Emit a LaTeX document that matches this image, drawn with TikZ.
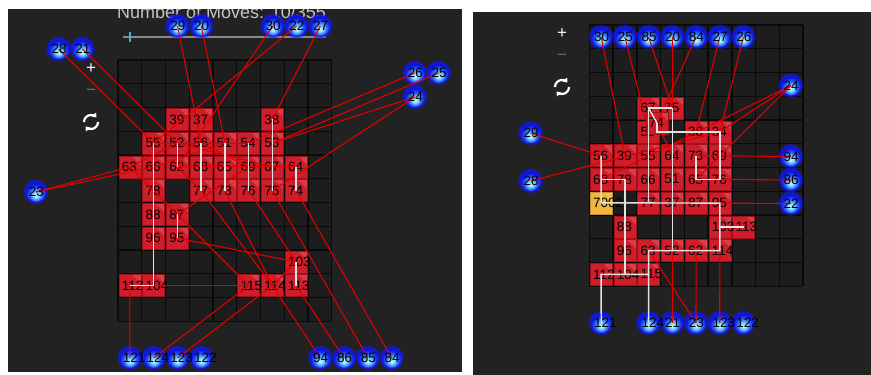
\documentclass[tikz,border=0pt]{standalone}
\usepackage{fontspec}
\setmainfont{Liberation Sans}
\usetikzlibrary{arrows.meta}

% blue pads: light cyan low in the middle, deep blue at the rim
\pgfdeclareradialshading{pinshade}{\pgfpoint{0bp}{-8bp}}{%
  rgb(0bp)=(0.80,0.97,1.00);
  rgb(7bp)=(0.50,0.85,1.00);
  rgb(16bp)=(0.15,0.35,0.97);
  rgb(24bp)=(0.05,0.08,0.85);
  rgb(50bp)=(0.05,0.08,0.85)}

\begin{document}
\begin{tikzpicture}[
    x=1pt, y=-1pt,
    every node/.style={font=\fontsize{13.5}{14}\selectfont},
]

% ---------------------------------------------------------------- colours
\definecolor{panel}{HTML}{222222}
\definecolor{cellbg}{HTML}{1D1D1D}
\definecolor{gridc}{HTML}{0A0A0A}
\definecolor{tilered}{HTML}{CF1D29}
\definecolor{tileedge}{HTML}{A3101B}
\definecolor{tilegold}{HTML}{F2B53E}
\definecolor{wirered}{HTML}{E00000}
\definecolor{routewhite}{HTML}{E2E2E2}
\definecolor{pinrim}{HTML}{1518E8}
\definecolor{textgrey}{HTML}{C4C4C4}
\definecolor{minusgrey}{HTML}{6E6E6E}
\definecolor{slidergrey}{HTML}{8A8A8A}
\definecolor{slidercyan}{HTML}{3BB6CC}

% ---------------------------------------------------------------- styles
\tikzset{
    tile/.style={
        rectangle, minimum size=22pt, inner sep=0pt,
        fill=tilered, draw=tileedge, line width=0.5pt,
        path picture={
            \fill[white, opacity=0.15] (path picture bounding box.north east)
                -- ++(-9pt,0pt) -- ++(9pt,-9pt) -- cycle;
        },
    },
    goldtile/.style={tile, fill=tilegold, draw=tilegold!80!black},
    tilenum/.style={anchor=west, inner sep=0pt, text=black},
    pinball/.style={
        circle, minimum size=21pt, inner sep=0pt,
        shading=pinshade, draw=pinrim, line width=1pt,
        preaction={draw=pinrim, line width=4pt, draw opacity=0.45},
    },
    pinnum/.style={anchor=west, inner sep=0pt, text=black},
    wire/.style={draw=wirered, line width=1.1pt},
    route/.style={draw=routewhite, line width=1.4pt},
    gridline/.style={draw=gridc, line width=1.4pt},
    control/.style={text=white, inner sep=0pt, font=\fontsize{17}{17}\selectfont},
    refresh/.style={white, line width=2.2pt, -{Triangle[length=4pt, width=6pt]}},
}

\def\leftTiles{39/2/2, 37/3/2, 38/6/2, 55/1/3, 52/2/3, 56/3/3, 51/4/3,
    54/5/3, 53/6/3, 63/0/4, 66/1/4, 62/2/4, 68/3/4, 65/4/4, 69/5/4,
    67/6/4, 64/7/4, 78/1/5, 77/3/5, 73/4/5, 76/5/5, 75/6/5, 74/7/5,
    88/1/6, 87/2/6, 96/1/7, 95/2/7, 103/7/8, 112/0/9, 104/1/9,
    115/5/9, 114/6/9, 113/7/9}
\def\rightTiles{67/2/3, 75/3/3, 59/2/4, 38/4/4, 34/5/4, 56/0/5, 39/1/5,
    55/2/5, 64/3/5, 73/4/5, 69/5/5, 68/0/6, 78/1/6, 66/2/6, 51/3/6,
    65/4/6, 76/5/6, 77/2/7, 37/3/7, 87/4/7, 95/5/7, 88/1/8, 103/5/8,
    113/6/8, 96/1/9, 63/2/9, 52/3/9, 62/4/9, 114/5/9, 112/0/10,
    104/1/10, 115/2/10}

\useasboundingbox (0,0) rectangle (871,375);

% ---------------------------------------------------------------- panels
\fill[white] (0,0) rectangle (871,375);
\fill[panel] (8,9) rectangle (462,372);
\fill[panel] (473,12) rectangle (871,375);

% ---------------------------------------------------------------- move counter (cut at the top)
\begin{scope}
    \clip (8,9) rectangle (462,372);
    \node[anchor=base west, inner sep=0pt, text=textgrey,
        font=\fontsize{18}{18}\selectfont] (moves) at (117,18)
        {Number of Moves: 10/355};
\end{scope}
\draw[slidergrey, line width=2pt] (123,37) -- (326,37);
\draw[slidercyan, line width=2pt] (130,32) -- (130,42);

% ---------------------------------------------------------------- zoom / rotate controls
\foreach \s/\cx/\cy in {L/91/69, R/562/34} {
    \node[control] (plus\s) at (\cx,\cy) {+};
    \node[control, text=minusgrey] (minus\s) at (\cx,\cy+23) {−};
    \draw[refresh] (\cx+7,\cy+53) arc[start angle=0, end angle=140, radius=7];
    \draw[refresh] (\cx-7,\cy+53) arc[start angle=180, end angle=320, radius=7];
}

% ---------------------------------------------------------------- boards
\foreach \gx/\gy in {118/60, 589.3/25} {
    \fill[cellbg] (\gx,\gy) rectangle (\gx+213.75,\gy+261.25);
    \foreach \i in {0,...,9}
        \draw[gridline] (\gx+\i*23.75,\gy) -- (\gx+\i*23.75,\gy+261.25);
    \foreach \j in {0,...,11}
        \draw[gridline] (\gx,\gy+\j*23.75) -- (\gx+213.75,\gy+\j*23.75);
}

% ---------------------------------------------------------------- tiles
\foreach \n/\c/\r in \leftTiles
    \node[tile] (l\n) at (118+\c*23.75+11.875, 60+\r*23.75+11.875) {};
\foreach \n/\c/\r in \rightTiles
    \node[tile] (r\n) at (589.3+\c*23.75+11.875, 25+\r*23.75+11.875) {};
\node[goldtile] (r70) at (601.2,202.8) {};

\foreach \n/\c/\r in \leftTiles
    \node[tilenum] (l\n-t) at ([xshift=3pt]l\n.west) {\n};
\foreach \n/\c/\r in \rightTiles
    \node[tilenum] (r\n-t) at ([xshift=3pt]r\n.west) {\n};
\node[tilenum] (r70-t) at ([xshift=3pt]r70.west) {7002};

% tile caught mid-move, lying over 59
\node[tile] (r74) at (657,123) {};
\node[tilenum] (r74-t) at ([xshift=3pt]r74.west) {74};

% ---------------------------------------------------------------- pads
\foreach \n/\px/\py in {28/58.6/49, 21/82.4/49, 29/177.5/26, 20/201.3/26,
    30/272.7/26, 22/296.5/26, 27/320.3/26, 26/414.9/73, 25/438.6/73,
    24/414.9/97, 23/36/192, 121/129.9/358, 124/153.7/358, 123/177.5/358,
    122/201.3/358, 94/320.3/358, 86/344.1/358, 85/367.9/358, 84/391.7/358} {
    \node[pinball] (lp\n) at (\px,\py) {};
}
\foreach \n/\px/\py in {30/601.2/37, 25/624.9/37, 85/648.6/37, 20/672.3/37,
    84/696/37, 27/719.7/37, 26/743.4/37, 24/790.8/85.5, 94/790.8/156.5,
    86/790.8/180, 22/790.8/203.5, 29/530.7/133.3, 28/530.7/181,
    121/601.2/323, 124/648.6/323, 21/672.3/323, 23/696/323,
    123/719.7/323, 122/743.4/323} {
    \node[pinball] (rp\n) at (\px,\py) {};
}

% ---------------------------------------------------------------- red wires
\foreach \a/\b in {lp28/l55, lp21/l52, lp29/l56, lp20/l51, lp30/l62,
    lp22/l55, lp27/l38, lp26/l54, lp25/l53, lp24/l53, lp24/l75,
    lp23/l63, lp23/l66, l63/l52, l66/l51, l55/l54, l62/l65, l52/l67,
    l56/l69, l68/l64, l62/l77, l87/l69, l63/l115, l95/l103, l77/l114,
    l73/l114, l76/l103, l114/l103, l104/l115, lp121/l112, lp124/l115,
    lp123/l114, lp94/l114, lp86/l113, lp85/l75, lp84/l74}
    \draw[wire] (\a.center) -- (\b.center);

\foreach \a/\b in {rp30/r39, rp25/r59, rp85/r75, rp20/r75, rp84/r74,
    rp27/r38, rp26/r34, rp24/r34, rp24/r65, rp24/r68, rp29/r56,
    rp28/r34, rp94/r73, rp86/r76, rp22/r95, rp21/r52, rp23/r62,
    rp23/r63, rp123/r114, r74/r64}
    \draw[wire] (\a.center) -- (\b.center);

% ---------------------------------------------------------------- white routes
\draw[route] (l55.center) -- (l104.center) -- (l112.center);
\foreach \a/\b in {l52/l62, l56/l77, l51/l73, l54/l76, l38/l75,
    l64/l74, l87/l95, l103/l113}
    \draw[route] (\a.center) -- (\b.center);

\draw[route] (r75.center) -- (r67.center) -- (r77.center);
\draw[route] (r67.center) -- (r74.center);
\draw[route] (r75.center) -- (r52.center);
\draw[route] (r74.center) |- (r34.center) -- (r76.center) -- (r65.center)
    -- (r73.center);
\draw[route] (r56.center) -- (r70.center) -- (r95.center) -- (r114.center)
    -- (r63.center) -- (r115.center) -- (rp124.center);
\draw[route] (r68.center) -- (r78.center) -- (r104.center);
\draw[route] (rp121.center) -- (r112.center) -- (r115.center);
\draw[route] (r103.center) -- (r113.center);

% ---------------------------------------------------------------- pad numbers
\foreach \n in {28,21,29,20,30,22,27,26,25,24,23,121,124,123,122,94,86,85,84}
    \node[pinnum] (lp\n-t) at ([xshift=-7.3pt]lp\n.center) {\n};
\foreach \n in {30,25,85,20,84,27,26,24,94,86,22,29,28,121,124,21,23,123,122}
    \node[pinnum] (rp\n-t) at ([xshift=-7.3pt]rp\n.center) {\n};

\end{tikzpicture}
\end{document}
